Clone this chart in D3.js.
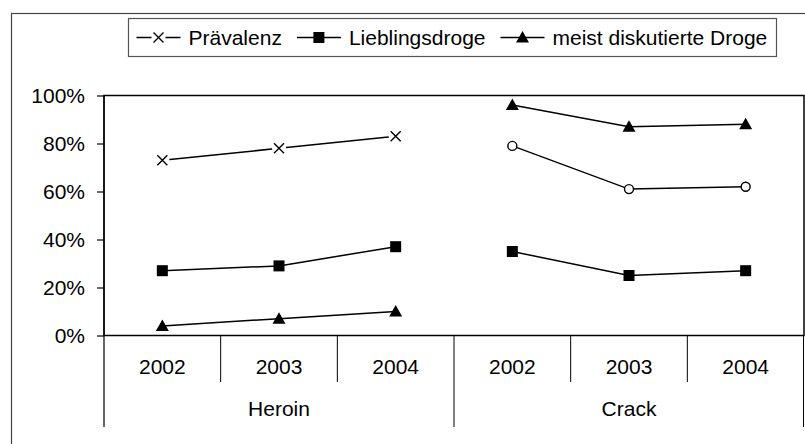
<!DOCTYPE html>
<html>
<head>
<meta charset="utf-8">
<script src="https://cdn.jsdelivr.net/npm/d3@7"></script>
<style>
  html, body { margin: 0; padding: 0; background: #fff; }
  svg { display: block; font-family: "Liberation Sans", Arial, sans-serif; }
</style>
</head>
<body>
<div id="chart"></div>
<script>
// Data (percent)
const groups = ["Heroin", "Crack"];
const years = ["2002", "2003", "2004"];
const seriesNames = ["Prävalenz", "Lieblingsdroge", "meist diskutierte Droge"];
const praevalenz = [[73, 78, 83], [79, 61, 62]];
const lieblingsdroge = [[27, 29, 37], [35, 25, 27]];
const diskutiert = [[4, 7, 10], [96, 87, 88]];
const yTicks = [0, 20, 40, 60, 80, 100];

const width = 805, height = 444;
const plot = { left: 104, right: 804, top: 95.5, bottom: 335.5 };
const fontSize = 21;

const svg = d3.select("#chart").append("svg")
    .attr("width", width)
    .attr("height", height);

// outer chart border (cut off at right and bottom)
svg.append("rect")
    .attr("x", 11.5).attr("y", 13.5)
    .attr("width", 820).attr("height", 460)
    .attr("fill", "none")
    .attr("stroke", "#444")
    .attr("stroke-width", 1.2);

// scales
const keys = [];
groups.forEach(g => years.forEach(y => keys.push(g + "|" + y)));
const x = d3.scaleBand().domain(keys).range([plot.left, plot.right]);
const xGroup = d3.scaleBand().domain(groups).range([plot.left, plot.right]);
const y = d3.scaleLinear().domain([0, 100]).range([plot.bottom, plot.top]);
const cx = (g, yr) => x(g + "|" + yr) + x.bandwidth() / 2;

// plot area frame
svg.append("rect")
    .attr("x", plot.left).attr("y", plot.top)
    .attr("width", plot.right - plot.left).attr("height", plot.bottom - plot.top)
    .attr("fill", "none")
    .attr("stroke", "#000")
    .attr("stroke-width", 1.5);

// y axis
const yAxis = svg.append("g")
    .attr("transform", `translate(${plot.left},0)`)
    .call(d3.axisLeft(y).tickValues(yTicks).tickSize(7).tickPadding(12)
        .tickFormat(d => d + "%"));
yAxis.select(".domain").remove();
yAxis.selectAll(".tick line").attr("stroke", "#000").attr("stroke-width", 1.2);
yAxis.selectAll(".tick text")
    .attr("font-size", fontSize)
    .attr("font-family", "Liberation Sans, Arial, sans-serif")
    .attr("fill", "#000");

// vertical axis line extends through category area
svg.append("line")
    .attr("x1", plot.left).attr("x2", plot.left)
    .attr("y1", plot.top).attr("y2", 427)
    .attr("stroke", "#000").attr("stroke-width", 1.2);

// category separators
const yearSepBottom = 382, groupSepBottom = 427;
keys.forEach((k, i) => {
    if (i === 0) return;
    const isGroup = i % years.length === 0;
    svg.append("line")
        .attr("x1", x(k)).attr("x2", x(k))
        .attr("y1", plot.bottom).attr("y2", isGroup ? groupSepBottom : yearSepBottom)
        .attr("stroke", "#000").attr("stroke-width", 1);
});
svg.append("line")
    .attr("x1", plot.right - 0.5).attr("x2", plot.right - 0.5)
    .attr("y1", plot.bottom).attr("y2", groupSepBottom)
    .attr("stroke", "#000").attr("stroke-width", 1);

// category labels
groups.forEach(g => {
    years.forEach(yr => {
        svg.append("text")
            .attr("x", cx(g, yr)).attr("y", 367)
            .attr("dy", "0.35em")
            .attr("text-anchor", "middle")
            .attr("font-size", fontSize)
            .text(yr);
    });
    svg.append("text")
        .attr("x", xGroup(g) + xGroup.bandwidth() / 2).attr("y", 409)
        .attr("dy", "0.35em")
        .attr("text-anchor", "middle")
        .attr("font-size", fontSize)
        .text(g);
});

// markers
function drawMarker(sel, type, px, py) {
    if (type === "x") {
        sel.append("circle").attr("cx", px).attr("cy", py).attr("r", 7).attr("fill", "#fff");
        sel.append("path")
            .attr("d", `M${px - 5},${py - 5}L${px + 5},${py + 5}M${px - 5},${py + 5}L${px + 5},${py - 5}`)
            .attr("stroke", "#000").attr("stroke-width", 1.4).attr("fill", "none");
    } else if (type === "square") {
        sel.append("rect").attr("x", px - 5.5).attr("y", py - 5.5)
            .attr("width", 11).attr("height", 11).attr("fill", "#000");
    } else if (type === "triangle") {
        sel.append("path")
            .attr("d", `M${px},${py - 6.5}L${px + 6.5},${py + 5}L${px - 6.5},${py + 5}Z`)
            .attr("fill", "#000");
    } else if (type === "circle") {
        sel.append("circle").attr("cx", px).attr("cy", py).attr("r", 4.5)
            .attr("fill", "#fff").attr("stroke", "#000").attr("stroke-width", 1.4);
    }
}

const series = [
    { values: praevalenz, markers: ["x", "circle"] },
    { values: lieblingsdroge, markers: ["square", "square"] },
    { values: diskutiert, markers: ["triangle", "triangle"] }
];

const line = d3.line().x(d => d[0]).y(d => d[1]);
const gSeries = svg.append("g");
series.forEach(s => {
    groups.forEach((g, gi) => {
        const pts = years.map((yr, i) => [cx(g, yr), y(s.values[gi][i])]);
        gSeries.append("path")
            .attr("d", line(pts))
            .attr("fill", "none")
            .attr("stroke", "#000")
            .attr("stroke-width", 1.5);
        pts.forEach(p => drawMarker(gSeries, s.markers[gi], p[0], p[1]));
    });
});

// legend
const legend = svg.append("g");
const legBox = { x: 128.5, y: 18.5, w: 648, h: 38 };
legend.append("rect")
    .attr("x", legBox.x).attr("y", legBox.y)
    .attr("width", legBox.w).attr("height", legBox.h)
    .attr("fill", "#fff").attr("stroke", "#555").attr("stroke-width", 1.2);

let lx = legBox.x + 8;
const ly = legBox.y + legBox.h / 2;
const legendMarkers = ["x", "square", "triangle"];
const symW = 44;
seriesNames.forEach((name, i) => {
    legend.append("line")
        .attr("x1", lx).attr("x2", lx + symW)
        .attr("y1", ly).attr("y2", ly)
        .attr("stroke", "#000").attr("stroke-width", 1.5);
    drawMarker(legend, legendMarkers[i], lx + symW / 2, ly);
    const t = legend.append("text")
        .attr("x", lx + symW + 8).attr("y", ly)
        .attr("dy", "0.35em")
        .attr("font-size", fontSize)
        .text(name);
    lx += symW + 8 + t.node().getComputedTextLength() + 15;
});
</script>
</body>
</html>
